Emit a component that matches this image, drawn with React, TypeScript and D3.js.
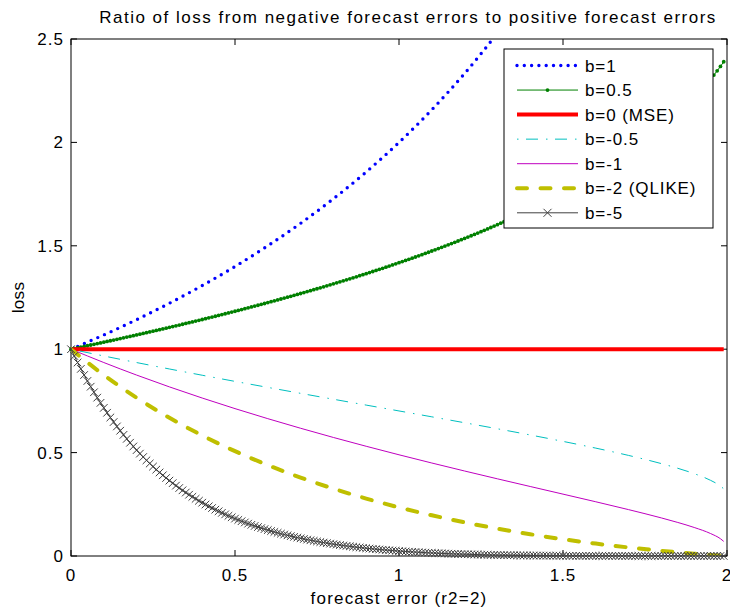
import * as d3 from 'd3';
import React, { useEffect, useRef } from 'react';

// forecast error grid (r2 = 2)
const errorsCoarse = [
  0, 0.1, 0.2, 0.3, 0.4, 0.5, 0.6, 0.7, 0.8, 0.9, 1, 1.1, 1.2, 1.3, 1.4, 1.5, 1.6, 1.7, 1.8, 1.85, 1.9,
  1.95, 1.98, 1.99,
];

const errorsFine = [
  0, 0.01, 0.02, 0.03, 0.04, 0.05, 0.06, 0.07, 0.08, 0.09, 0.1, 0.11, 0.12, 0.13, 0.14, 0.15, 0.16, 0.17, 0.18, 0.19,
  0.2, 0.21, 0.22, 0.23, 0.24, 0.25, 0.26, 0.27, 0.28, 0.29, 0.3, 0.31, 0.32, 0.33, 0.34, 0.35, 0.36, 0.37, 0.38, 0.39,
  0.4, 0.41, 0.42, 0.43, 0.44, 0.45, 0.46, 0.47, 0.48, 0.49, 0.5, 0.51, 0.52, 0.53, 0.54, 0.55, 0.56, 0.57, 0.58, 0.59,
  0.6, 0.61, 0.62, 0.63, 0.64, 0.65, 0.66, 0.67, 0.68, 0.69, 0.7, 0.71, 0.72, 0.73, 0.74, 0.75, 0.76, 0.77, 0.78, 0.79,
  0.8, 0.81, 0.82, 0.83, 0.84, 0.85, 0.86, 0.87, 0.88, 0.89, 0.9, 0.91, 0.92, 0.93, 0.94, 0.95, 0.96, 0.97, 0.98, 0.99,
  1, 1.01, 1.02, 1.03, 1.04, 1.05, 1.06, 1.07, 1.08, 1.09, 1.1, 1.11, 1.12, 1.13, 1.14, 1.15, 1.16, 1.17, 1.18, 1.19,
  1.2, 1.21, 1.22, 1.23, 1.24, 1.25, 1.26, 1.27, 1.28, 1.29, 1.3, 1.31, 1.32, 1.33, 1.34, 1.35, 1.36, 1.37, 1.38, 1.39,
  1.4, 1.41, 1.42, 1.43, 1.44, 1.45, 1.46, 1.47, 1.48, 1.49, 1.5, 1.51, 1.52, 1.53, 1.54, 1.55, 1.56, 1.57, 1.58, 1.59,
  1.6, 1.61, 1.62, 1.63, 1.64, 1.65, 1.66, 1.67, 1.68, 1.69, 1.7, 1.71, 1.72, 1.73, 1.74, 1.75, 1.76, 1.77, 1.78, 1.79,
  1.8, 1.81, 1.82, 1.83, 1.84, 1.85, 1.86, 1.87, 1.88, 1.89, 1.9, 1.91, 1.92, 1.93, 1.94, 1.95, 1.96, 1.97, 1.98, 1.99,
];

const lossB1 = [
  1, 1.069, 1.1429, 1.2222, 1.3077, 1.4, 1.5, 1.6087, 1.7273, 1.8571, 2, 2.1579, 2.3333, 2.5294, 2.75, 3,
  3.2857, 3.6154, 4, 4.2174, 4.4545, 4.7143, 4.8824, 4.9406,
];

const lossB05 = [
  1, 1.0033, 1.0067, 1.0101, 1.0134, 1.0168, 1.0202, 1.0236, 1.027, 1.0305,
  1.0339, 1.0374, 1.0408, 1.0443, 1.0478, 1.0513, 1.0548, 1.0584, 1.0619, 1.0655,
  1.0691, 1.0727, 1.0763, 1.0799, 1.0835, 1.0872, 1.0908, 1.0945, 1.0982, 1.1019,
  1.1056, 1.1093, 1.1131, 1.1169, 1.1207, 1.1245, 1.1283, 1.1321, 1.136, 1.1398,
  1.1437, 1.1476, 1.1515, 1.1555, 1.1594, 1.1634, 1.1674, 1.1714, 1.1754, 1.1795,
  1.1836, 1.1876, 1.1918, 1.1959, 1.2, 1.2042, 1.2084, 1.2126, 1.2168, 1.2211,
  1.2254, 1.2297, 1.234, 1.2383, 1.2427, 1.2471, 1.2515, 1.2559, 1.2604, 1.2649,
  1.2694, 1.2739, 1.2785, 1.2831, 1.2877, 1.2923, 1.297, 1.3017, 1.3064, 1.3112,
  1.316, 1.3208, 1.3256, 1.3305, 1.3354, 1.3403, 1.3453, 1.3502, 1.3553, 1.3603,
  1.3654, 1.3705, 1.3757, 1.3808, 1.3861, 1.3913, 1.3966, 1.4019, 1.4073, 1.4127,
  1.4182, 1.4237, 1.4292, 1.4347, 1.4403, 1.4459, 1.4516, 1.4573, 1.4631, 1.4689,
  1.4748, 1.4807, 1.4866, 1.4926, 1.4986, 1.5047, 1.5108, 1.517, 1.5232, 1.5295,
  1.5358, 1.5422, 1.5487, 1.5552, 1.5617, 1.5683, 1.575, 1.5817, 1.5885, 1.5954,
  1.6023, 1.6093, 1.6163, 1.6234, 1.6305, 1.6378, 1.6451, 1.6525, 1.6599, 1.6675,
  1.6751, 1.6828, 1.6905, 1.6984, 1.7063, 1.7143, 1.7224, 1.7306, 1.7389, 1.7473,
  1.7558, 1.7644, 1.773, 1.7818, 1.7906, 1.7996, 1.8087, 1.818, 1.8273, 1.8368,
  1.8463, 1.856, 1.8658, 1.8758, 1.8859, 1.8962, 1.9065, 1.9171, 1.9278, 1.9387,
  1.9497, 1.9609, 1.9722, 1.9838, 1.9955, 2.0075, 2.0196, 2.032, 2.0446, 2.0575,
  2.0705, 2.0839, 2.0974, 2.1113, 2.1254, 2.14, 2.1547, 2.1699, 2.1853, 2.2012,
  2.2174, 2.2342, 2.2513, 2.2691, 2.2873, 2.3063, 2.3257, 2.3462, 2.3674, 2.3899,
];

const lossB0 = [1, 1, 1, 1, 1, 1, 1, 1, 1, 1, 1, 1, 1, 1, 1, 1, 1, 1, 1, 1, 1, 1, 1, 1];

const lossBm05 = [
  1, 0.9672, 0.9354, 0.9044, 0.8741, 0.8444, 0.8153, 0.7865, 0.758, 0.7297, 0.7014, 0.673, 0.6443, 0.6152,
  0.5853, 0.5542, 0.5216, 0.4863, 0.4467, 0.4241, 0.3982, 0.3658, 0.3382, 0.3246,
];

const lossBm1 = [
  1, 0.9355, 0.8749, 0.8178, 0.7639, 0.7127, 0.6641, 0.6177, 0.5732, 0.5306, 0.4894, 0.4497, 0.411, 0.3732,
  0.3361, 0.2992, 0.2622, 0.2242, 0.1841, 0.1622, 0.1379, 0.1085, 0.0835, 0.0707,
];

const lossBm2 = [
  1, 0.8751, 0.7653, 0.6685, 0.5829, 0.507, 0.4395, 0.3793, 0.3257, 0.2778, 0.2351, 0.1969, 0.1628, 0.1323,
  0.1052, 0.0812, 0.06, 0.0413, 0.0251, 0.0179, 0.0113, 0.0053, 0.002, 0.001,
];

const lossBm5 = [
  1, 0.9672, 0.9355, 0.9048, 0.8752, 0.8464, 0.8187, 0.7918, 0.7658, 0.7406,
  0.7163, 0.6927, 0.6699, 0.6479, 0.6265, 0.6058, 0.5858, 0.5665, 0.5477, 0.5296,
  0.512, 0.495, 0.4786, 0.4626, 0.4472, 0.4323, 0.4178, 0.4039, 0.3903, 0.3772,
  0.3645, 0.3522, 0.3403, 0.3288, 0.3177, 0.3069, 0.2964, 0.2863, 0.2765, 0.267,
  0.2578, 0.249, 0.2404, 0.232, 0.224, 0.2162, 0.2086, 0.2013, 0.1943, 0.1874,
  0.1808, 0.1744, 0.1682, 0.1622, 0.1564, 0.1508, 0.1453, 0.1401, 0.135, 0.1301,
  0.1253, 0.1207, 0.1163, 0.112, 0.1078, 0.1038, 0.0999, 0.0961, 0.0925, 0.089,
  0.0856, 0.0823, 0.0792, 0.0761, 0.0731, 0.0703, 0.0675, 0.0649, 0.0623, 0.0598,
  0.0574, 0.0551, 0.0529, 0.0507, 0.0486, 0.0466, 0.0447, 0.0428, 0.041, 0.0393,
  0.0376, 0.036, 0.0345, 0.033, 0.0315, 0.0302, 0.0288, 0.0275, 0.0263, 0.0251,
  0.024, 0.0229, 0.0218, 0.0208, 0.0198, 0.0189, 0.018, 0.0171, 0.0163, 0.0155,
  0.0147, 0.014, 0.0133, 0.0126, 0.012, 0.0114, 0.0108, 0.0102, 0.0097, 0.0091,
  0.0086, 0.0082, 0.0077, 0.0073, 0.0069, 0.0065, 0.0061, 0.0057, 0.0054, 0.0051,
  0.0048, 0.0045, 0.0042, 0.004, 0.0037, 0.0035, 0.0032, 0.003, 0.0028, 0.0026,
  0.0024, 0.0023, 0.0021, 0.002, 0.0018, 0.0017, 0.0016, 0.0014, 0.0013, 0.0012,
  0.0011, 0.001, 0.0009, 0.0009, 0.0008, 0.0007, 0.0007, 0.0006, 0.0005, 0.0005,
  0.0004, 0.0004, 0.0004, 0.0003, 0.0003, 0.0003, 0.0002, 0.0002, 0.0002, 0.0002,
  0.0001, 0.0001, 0.0001, 0.0001, 0.0001, 0.0001, 0.0001, 0.0001, 0, 0,
  0, 0, 0, 0, 0, 0, 0, 0, 0, 0,
  0, 0, 0, 0, 0, 0, 0, 0, 0, 0,
];

const xTicks = [0, 0.5, 1, 1.5, 2];
const yTicks = [0, 0.5, 1, 1.5, 2, 2.5];

const chartTitle = 'Ratio of loss from negative forecast errors to positive forecast errors';
const xLabel = 'forecast error (r2=2)';
const yLabel = 'loss';

interface Series {
  label: string;
  xs: number[];
  ys: number[];
  color: string;
  width: number;
  dash?: string;
  cap?: string;
  marker?: 'dot' | 'x';
  smooth: boolean;
}

const series: Series[] = [
  { label: 'b=1', xs: errorsCoarse, ys: lossB1, color: '#0000ff', width: 3.4, dash: '0 7.3', cap: 'round', smooth: true },
  { label: 'b=0.5', xs: errorsFine, ys: lossB05, color: '#008000', width: 1, marker: 'dot', smooth: false },
  { label: 'b=0 (MSE)', xs: errorsCoarse, ys: lossB0, color: '#ff0000', width: 4, smooth: false },
  { label: 'b=-0.5', xs: errorsCoarse, ys: lossBm05, color: '#00bfbf', width: 1, dash: '1.5 7.5 12 8', smooth: true },
  { label: 'b=-1', xs: errorsCoarse, ys: lossBm1, color: '#bf00bf', width: 1, smooth: true },
  { label: 'b=-2 (QLIKE)', xs: errorsCoarse, ys: lossBm2, color: '#bfbf00', width: 4, dash: '10 13.5', cap: 'round', smooth: true },
  { label: 'b=-5', xs: errorsFine, ys: lossBm5, color: '#404040', width: 1, marker: 'x', smooth: false },
];

const FONT = '"Liberation Sans", Arial, Helvetica, sans-serif';

const App: React.FC = () => {
  const svgRef = useRef<SVGSVGElement | null>(null);

  useEffect(() => {
    document.body.style.margin = '0';
    const width = 730;
    const height = 612;
    const svg = d3.select(svgRef.current);
    svg.selectAll('*').remove();
    svg.attr('width', width).attr('height', height).style('display', 'block').style('background', '#fff');

    const x = d3.scaleLinear().domain([0, 2]).range([71, 727]);
    const y = d3.scaleLinear().domain([0, 2.5]).range([556, 39]);

    svg
      .append('defs')
      .append('clipPath')
      .attr('id', 'plot-clip')
      .append('rect')
      .attr('x', x(0))
      .attr('y', y(2.5))
      .attr('width', x(2) - x(0))
      .attr('height', y(0) - y(2.5));

    // axes box with inward ticks (drawn below the data)
    const axes = svg.append('g').attr('stroke', '#000').attr('fill', 'none').attr('stroke-width', 1);
    axes
      .append('rect')
      .attr('x', x(0))
      .attr('y', y(2.5))
      .attr('width', x(2) - x(0))
      .attr('height', y(0) - y(2.5));
    xTicks.forEach((t) => {
      axes.append('line').attr('x1', x(t)).attr('x2', x(t)).attr('y1', y(0)).attr('y2', y(0) - 6);
      axes.append('line').attr('x1', x(t)).attr('x2', x(t)).attr('y1', y(2.5)).attr('y2', y(2.5) + 6);
    });
    yTicks.forEach((t) => {
      axes.append('line').attr('x1', x(0)).attr('x2', x(0) + 6).attr('y1', y(t)).attr('y2', y(t));
      axes.append('line').attr('x1', x(2)).attr('x2', x(2) - 6).attr('y1', y(t)).attr('y2', y(t));
    });

    const labels = svg.append('g').attr('font-family', FONT).attr('font-size', 17).attr('fill', '#000');
    labels
      .selectAll('text.xt')
      .data(xTicks)
      .enter()
      .append('text')
      .attr('x', (d) => x(d))
      .attr('y', 581)
      .attr('text-anchor', 'middle')
      .attr('letter-spacing', 1)
      .text((d) => String(d));
    labels
      .selectAll('text.yt')
      .data(yTicks)
      .enter()
      .append('text')
      .attr('x', 64)
      .attr('y', (d) => y(d) + 6)
      .attr('text-anchor', 'end')
      .attr('letter-spacing', 1)
      .text((d) => String(d));

    labels
      .append('text')
      .attr('x', 408)
      .attr('y', 23)
      .attr('text-anchor', 'middle')
      .attr('letter-spacing', 1.5)
      .text(chartTitle);
    labels
      .append('text')
      .attr('x', 399)
      .attr('y', 604)
      .attr('text-anchor', 'middle')
      .attr('letter-spacing', 1.2)
      .text(xLabel);
    labels
      .append('text')
      .attr('transform', 'translate(24,297.5) rotate(-90)')
      .attr('text-anchor', 'middle')
      .attr('letter-spacing', 0.3)
      .text(yLabel);

    const xMark = (h: number) => `M${-h},${-h}L${h},${h}M${-h},${h}L${h},${-h}`;

    const plot = svg.append('g');
    series.forEach((s) => {
      const pts: [number, number][] = s.xs.map((e, i) => [e, s.ys[i]]);
      const line = d3
        .line<[number, number]>()
        .x((d) => x(d[0]))
        .y((d) => y(d[1]))
        .curve(s.smooth ? d3.curveMonotoneX : d3.curveLinear);

      plot
        .append('path')
        .attr('d', line(pts))
        .attr('clip-path', 'url(#plot-clip)')
        .attr('fill', 'none')
        .attr('stroke', s.color)
        .attr('stroke-width', s.width)
        .attr('stroke-dasharray', s.dash ?? null)
        .attr('stroke-linecap', s.cap ?? 'butt')
        .attr('stroke-linejoin', 'round');

      if (s.marker === 'dot') {
        plot
          .append('g')
          .selectAll('circle')
          .data(pts)
          .enter()
          .append('circle')
          .attr('cx', (d) => x(d[0]))
          .attr('cy', (d) => y(d[1]))
          .attr('r', 1.9)
          .attr('fill', s.color);
      }
      if (s.marker === 'x') {
        plot
          .append('g')
          .selectAll('path')
          .data(pts)
          .enter()
          .append('path')
          .attr('transform', (d) => `translate(${x(d[0])},${y(d[1])})`)
          .attr('d', xMark(3.8))
          .attr('fill', 'none')
          .attr('stroke', s.color)
          .attr('stroke-width', 1);
      }
    });

    // legend
    const legend = svg.append('g');
    legend
      .append('rect')
      .attr('x', 504)
      .attr('y', 49)
      .attr('width', 209)
      .attr('height', 179)
      .attr('fill', '#fff')
      .attr('stroke', '#000')
      .attr('stroke-width', 1);

    series.forEach((s, i) => {
      const rowY = 65.5 + i * 24.55;
      legend
        .append('line')
        .attr('x1', 517)
        .attr('x2', 578)
        .attr('y1', rowY)
        .attr('y2', rowY)
        .attr('stroke', s.color)
        .attr('stroke-width', s.width)
        .attr('stroke-dasharray', s.dash ?? null)
        .attr('stroke-linecap', s.cap ?? 'butt');
      if (s.marker === 'dot') {
        legend.append('circle').attr('cx', 547.5).attr('cy', rowY).attr('r', 1.9).attr('fill', s.color);
      }
      if (s.marker === 'x') {
        legend
          .append('path')
          .attr('transform', `translate(547.5,${rowY})`)
          .attr('d', xMark(4))
          .attr('fill', 'none')
          .attr('stroke', s.color)
          .attr('stroke-width', 1);
      }
      legend
        .append('text')
        .attr('x', 585)
        .attr('y', rowY + 6)
        .attr('font-family', FONT)
        .attr('font-size', 17)
        .attr('letter-spacing', 0.9)
        .attr('fill', '#000')
        .text(s.label);
    });
  }, []);

  return (
    <div style={{ width: 730, height: 612 }}>
      <svg ref={svgRef}></svg>
    </div>
  );
};

export default App;
